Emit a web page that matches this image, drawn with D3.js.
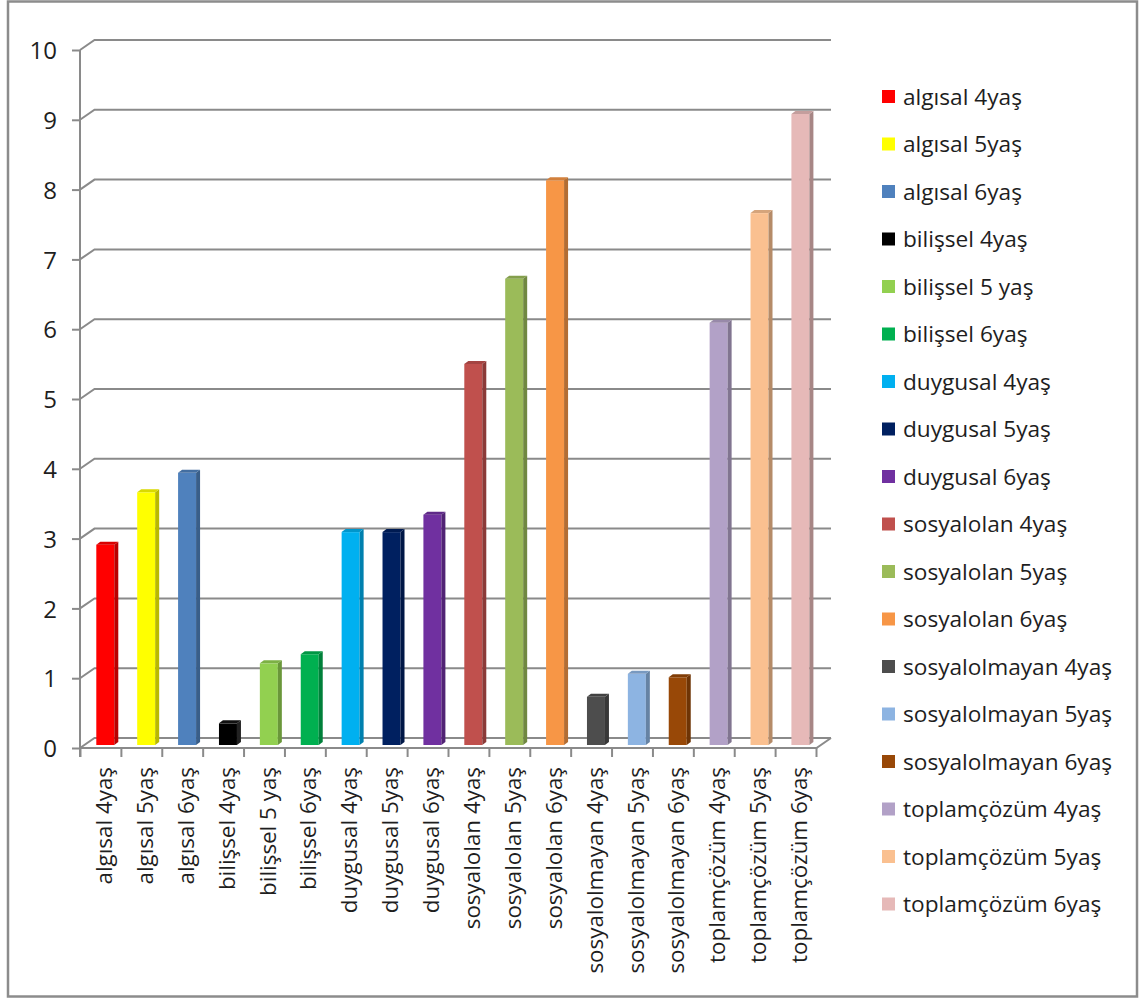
<!DOCTYPE html>
<html><head><meta charset="utf-8">
<script src="https://cdn.jsdelivr.net/npm/d3@7"></script>
<style>
html,body{margin:0;padding:0;background:#fff;}
svg{display:block;}
text{font-family:"Open Sans",sans-serif;fill:#1e1e1e;}
</style></head>
<body><svg id="c" width="1140" height="998"></svg>
<script>
const categories = ["algısal 4yaş","algısal 5yaş","algısal 6yaş","bilişsel 4yaş","bilişsel 5 yaş","bilişsel 6yaş","duygusal 4yaş","duygusal 5yaş","duygusal 6yaş","sosyalolan 4yaş","sosyalolan 5yaş","sosyalolan 6yaş","sosyalolmayan 4yaş","sosyalolmayan 5yaş","sosyalolmayan 6yaş","toplamçözüm 4yaş","toplamçözüm 5yaş","toplamçözüm 6yaş"];
const values = [2.87,3.62,3.90,0.31,1.17,1.30,3.05,3.05,3.30,5.46,6.68,8.09,0.69,1.02,0.97,6.05,7.62,9.04];
const colors = ["#FF0000","#FFFF00","#4F81BD","#000000","#92D050","#00B050","#00B0F0","#002060","#7030A0","#C0504D","#9BBB59","#F79646","#4D4D4D","#8DB4E2","#984807","#B2A1C7","#FAC090","#E6B9B8"];
const yTicks = [0,1,2,3,4,5,6,7,8,9,10];

const svg = d3.select("#c");
const gridCol = "#8a8a8a";
const DX = 14.5, DY = -10;

// outer border
svg.append("rect").attr("x",8).attr("y",1.5).attr("width",1129).attr("height",995)
  .attr("fill","none").attr("stroke","#8c8c8c").attr("stroke-width",2.5);

const y = d3.scaleLinear().domain([0,10]).range([748,50]);
const x = d3.scaleBand().domain(categories).range([80.5,816.5]);

// back wall gridlines with diagonal connectors
const grid = svg.append("g").attr("stroke",gridCol).attr("stroke-width",2).attr("fill","none");
yTicks.forEach(t=>{
  grid.append("path").attr("d",`M80,${y(t)}L${80+DX},${y(t)+DY}L${816.5+DX},${y(t)+DY}`);
});
// floor front edge and right diagonal
grid.append("path").attr("d",`M80,${y(0)}L816.5,${y(0)}L${816.5+DX},${y(0)+DY}`);
// y axis vertical line
grid.append("line").attr("x1",80).attr("x2",80).attr("y1",y(10)).attr("y2",757);

// y axis
const yAxis = d3.axisLeft(y).tickValues(yTicks).tickSize(8).tickSizeOuter(0).tickPadding(15).tickFormat(d3.format("d"));
const gy = svg.append("g").attr("transform","translate(80,0)").call(yAxis);
gy.select(".domain").remove();
gy.selectAll(".tick line").attr("stroke",gridCol).attr("stroke-width",2);
gy.selectAll(".tick text").style("font-size","24px").attr("fill","#1e1e1e").attr("dy","0.36em");

// x axis tick marks at band boundaries
const bounds = categories.map(c=>x(c)).concat([x.range()[1]]);
svg.append("g").selectAll("line").data(bounds).join("line")
  .attr("x1",d=>d).attr("x2",d=>d).attr("y1",y(0)).attr("y2",757)
  .attr("stroke",gridCol).attr("stroke-width",2);

// bars (pseudo 3D)
const bw = x.bandwidth()*0.44, off = 0.3; // depth position
const bdx = 4, bdy = -3;
const bars = svg.append("g");
categories.forEach((c,i)=>{
  const x0 = x(c) + (x.bandwidth()-bw)/2 + DX*off;
  const x1 = x0 + bw;
  const yb = y(0) + DY*off;
  const yt = y(values[i]) + DY*off;
  const col = d3.color(colors[i]);
  const g = bars.append("g");
  g.append("rect").attr("x",x0).attr("y",yt).attr("width",bw).attr("height",yb-yt).attr("fill",col.formatHex());
  g.append("polygon").attr("points",`${x1},${yb} ${x1+bdx},${yb+bdy} ${x1+bdx},${yt+bdy} ${x1},${yt}`)
    .attr("fill", colors[i]==="#000000" ? "#222" : col.darker(0.9).formatHex());
  g.append("polygon").attr("points",`${x0},${yt} ${x0+bdx},${yt+bdy} ${x1+bdx},${yt+bdy} ${x1},${yt}`)
    .attr("fill", colors[i]==="#000000" ? "#111" : col.darker(0.45).formatHex());
});

// x labels (rotated)
const xAxis = d3.axisBottom(x).tickSize(0).tickPadding(0);
const gx = svg.append("g").attr("transform",`translate(0,${y(0)})`).call(xAxis);
gx.select(".domain").remove();
const xt = gx.selectAll(".tick text")
  .style("font-size","20px").attr("fill","#1e1e1e")
  .attr("text-anchor","end")
  .attr("transform","translate(3,19) rotate(-90)")
  .attr("x",0).attr("y",0).attr("dy","0.36em");
// fit: "toplamçözüm 6yaş" ~196px long in the reference
const xw = xt.nodes()[17].getComputedTextLength();
xt.style("font-size", (20*196/xw).toFixed(2)+"px");

// legend
const legend = svg.append("g");
const ly = d3.scalePoint().domain(categories).range([96.5, 904]);
categories.forEach((c,i)=>{
  legend.append("rect").attr("x",882).attr("y",ly(c)-6.5).attr("width",13).attr("height",13).attr("fill",colors[i]);
  legend.append("text").attr("x",903).attr("y",ly(c)).attr("dy","0.36em").style("font-size","20px").text(c);
});
// fit legend text width to reference (algısal 4yaş ~119px)
const ltexts = legend.selectAll("text");
const w0 = ltexts.nodes()[0].getComputedTextLength();
const fs = 20*119/w0;
ltexts.style("font-size", fs.toFixed(2)+"px");
</script></body></html>
